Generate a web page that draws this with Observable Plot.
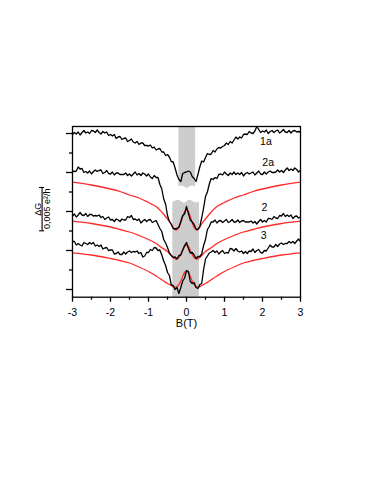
<!DOCTYPE html>
<html><head><meta charset="utf-8">
<script src="https://cdn.jsdelivr.net/npm/d3@7"></script>
<script src="https://cdn.jsdelivr.net/npm/@observablehq/plot@0.6"></script>
<style>html,body{margin:0;padding:0;background:#fff} svg{display:block}</style>
</head><body><div id="chart"></div>
<script>
// magnetic field sweep (T)
const fieldB = [-3,-2.95,-2.9,-2.85,-2.8,-2.75,-2.7,-2.65,-2.6,-2.55,-2.5,-2.45,-2.4,-2.35,-2.3,-2.25,-2.2,-2.15,-2.1,-2.05,-2,-1.95,-1.9,-1.85,-1.8,-1.75,-1.7,-1.65,-1.6,-1.55,-1.5,-1.45,-1.4,-1.35,-1.3,-1.25,-1.2,-1.15,-1.1,-1.05,-1,-0.95,-0.9,-0.85,-0.8,-0.75,-0.7,-0.65,-0.6,-0.55,-0.5,-0.45,-0.4,-0.35,-0.3,-0.25,-0.2,-0.15,-0.1,-0.05,0,0.05,0.1,0.15,0.2,0.25,0.3,0.35,0.4,0.45,0.5,0.55,0.6,0.65,0.7,0.75,0.8,0.85,0.9,0.95,1,1.05,1.1,1.15,1.2,1.25,1.3,1.35,1.4,1.45,1.5,1.55,1.6,1.65,1.7,1.75,1.8,1.85,1.9,1.95,2,2.05,2.1,2.15,2.2,2.25,2.3,2.35,2.4,2.45,2.5,2.55,2.6,2.65,2.7,2.75,2.8,2.85,2.9,2.95,3];

// measured traces (offset conductance, arbitrary units)
const trace1a = [155,157,155.5,157.5,154.5,157,159,156.5,157.5,156,
159,158.5,157,159.5,157,155.5,158,156.5,157.5,154,
155,153.5,155,151,152.5,153,150,151,151.5,148,
149,150.5,147.5,146.5,148,145,146.5,146.5,144,144,
143.5,144.5,141.5,142.5,139.5,140.5,141,137.5,137.5,134,
135,132.5,128,127.5,121.5,114.5,110,108,116,117,
117.5,118.5,117.5,113,111,108,115,122.5,128.5,127.5,
132,136,135,135.5,139,137.5,140.5,142,141.5,143,
144,146.5,145,148,146.5,149.5,152.5,150.5,152.5,151.5,
155,155.5,155,158,156.5,156,158.5,163,160,157,
158.5,157.5,159.5,156,158,159,157,158.5,159.5,156.5,
158,160,157.5,157,159,156.5,158.5,159,157.5,158,157.5];

const trace2a = [118.5,118,118.5,122.5,120.5,121,117,118,116.5,118.5,
115.5,118,119.5,118,119,119.5,116,117,119,116,
115.5,117.5,114.5,116.5,116.5,115,115,115,116.5,114,
115.5,113.5,115.5,117.5,114.5,116,114,116.5,115.5,113.5,
115.5,112.5,111,114,112,112,105,100.5,90.5,85.5,
74,68,65,61,60.5,61,62.5,68,74,75.5,
83,76,69.5,67.5,65,60.5,60,63,71.5,81.5,
93,97.5,105.5,111,110,112,111,115,115.5,114.5,
117.5,115.5,114,116.5,115,117.5,115,116.5,115,117,
113.5,116,117,115.5,116.5,117.5,114.5,116.5,118.5,115.5,
115,117.5,115.5,117.5,118.5,117,117,117.5,119.5,117.5,
119,117,119.5,121.5,119,120.5,119,121.5,120,117.5,119];

const trace2 = [73.5,75.5,72.5,74.5,77,74.5,74,76,73,75,
75,73.5,74,73.5,74.5,72,73,70,71.5,72.5,
69.5,70,68,70.5,69.5,68,70.5,69.5,69.5,73,
72,74,70,70.5,69,70.5,66.5,68.5,70,68,
69.5,70,67,68,69,65,61,58,50,46.5,
42,36.5,34,32,32.5,30.5,34,34.5,39.5,44,
47,41,36.5,37,34.5,31,33,33,35.5,44,
50,60,63,67.5,67.5,69.5,66.5,68.5,69,67,
68.5,70,67,68,70,67.5,67.5,69.5,67,68.5,
69,67.5,67.5,67.5,68.5,66.5,68,65.5,68,70,
67.5,69,67.5,71,71,70,73,71.5,71,74,
73.5,76,73,74.5,73,74.5,71,73,73.5,71.5,72.5];

const trace3 = [48,48,44.5,46,44.5,43.5,47,46,45,47,
45.5,47,43.5,44.5,43,44.5,40.5,41.5,42,39,
39.5,39.5,35.5,36,37.5,35,35,37.5,35.5,37.5,
38.5,37,38,37.5,38.5,36,37,32.5,33.5,37,
37,40,39,42,41.5,39,39.5,34.5,28.5,24,
17,14,4.5,4,0,2,-4,2,8.5,11.5,
19,18,8,6,7,2,1,5,6,20,
30.5,33.5,36.5,37.5,39,37,38.5,35.5,37.5,39,
36,37,36.5,41,40.5,38.5,41,38.5,37.5,38.5,
36,38,36,38.5,38,40.5,37,39,40,37,
36.5,39,38.5,41.5,44.5,42.5,42.5,45,43,45.5,
46.5,45,46,46,48,46.5,48,46,48.5,50.5,48];

// fitted curves (red)
const fitB = [-3,-2.5,-2,-1.75,-1.5,-1.25,-1,-0.8,-0.64,-0.5,-0.4,-0.33,-0.27,-0.2,-0.15,-0.1,-0.05,0,0.05,0.1,0.15,0.2,0.27,0.33,0.4,0.5,0.64,0.8,1,1.25,1.5,1.75,2,2.5,3];
const fit2a = [107.3,104.5,100.5,98,94.5,91.5,87,83,77,70.5,65.5,61,59.5,62,67,73,78,80,78,73,67,62,59.5,61,65.5,70.5,77,83,87,91.5,94.5,98,100.5,104.5,107.3];
const fit2 = [68.3,66,62.5,60,57.5,54,50,46,41.5,38,34,31.5,30.5,32,35,39,43,44.5,43,39,35,32,30.5,31.5,34,38,41.5,46,50,54,57.5,60,62.5,66,68.3];
const fit3 = [36.7,34.5,31,29,26.5,22.5,18,13.5,9.5,6,4,2.5,2.5,5,8.5,13,17,18.5,17,13,8.5,5,2.5,2.5,4,6,9.5,13.5,18,22.5,26.5,29,31,34.5,36.7];

// shaded field ranges
const band1B = [-0.2,-0.1,-0.02,0.02,0.06,0.14,0.24];
const band1Low = [103,103.5,102,100.5,102,103.5,103];
const band2B = [-0.36,-0.28,-0.2,-0.12,-0.05,0.02,0.09,0.17,0.25,0.34];
const band2High = [87,88.5,89.5,87.5,86,88,89.5,88,86.5,87.5];

// axes
const xTicks = [-3,-2,-1,0,1,2,3];
const xMinor = [-2.5,-1.5,-0.5,0.5,1.5,2.5];
const yTicks = [0,39,78,117,156];
const yMinor = [19.5,58.5,97.5,136.5];

// curve labels
const labelText = ["1a","2a","2","3"];
const labelB = [2.09,2.15,2.05,2.03];
const labelG = [148,127,82,54];

const yDomain = [-7.7, 163];

const traces = [
  ["1a", trace1a], ["2a", trace2a], ["2", trace2], ["3", trace3]
].flatMap(([k, arr]) => arr.map((g, i) => ({k, B: fieldB[i], G: g})));
const fits = [
  ["2a", fit2a], ["2", fit2], ["3", fit3]
].flatMap(([k, arr]) => arr.map((g, i) => ({k, B: fitB[i], G: g})));
const band1 = band1B.map((b, i) => ({B: b, lo: band1Low[i]}));
const band2 = band2B.map((b, i) => ({B: b, hi: band2High[i]}));
const labels = labelText.map((t, i) => ({t, B: labelB[i], G: labelG[i]}));

const font = "'Liberation Sans', Arial, Helvetica, sans-serif";

const chart = Plot.plot({
  width: 382,
  height: 494,
  marginLeft: 72,
  marginRight: 82,
  marginTop: 126,
  marginBottom: 197.3,
  style: {fontFamily: font, fontSize: "10px", color: "black", background: "white"},
  x: {domain: [-3, 3], axis: null},
  y: {domain: yDomain, axis: null},
  marks: [
    Plot.areaY(band1, {x: "B", y1: "lo", y2: yDomain[1], fill: "#cdcdcd"}),
    Plot.areaY(band2, {x: "B", y1: yDomain[0], y2: "hi", fill: "#cdcdcd"}),
    Plot.line(fits, {x: "B", y: "G", z: "k", stroke: "#ff2a2a", strokeWidth: 1.3, curve: "catmull-rom"}),
    Plot.line(traces, {x: "B", y: "G", z: "k", stroke: "black", strokeWidth: 1.3}),
    Plot.frame({stroke: "black", strokeWidth: 1.3}),
    Plot.axisX({ticks: xTicks, tickSize: 5, tickPadding: 6.5, tickFormat: d => String(d), fontSize: 10.5, label: null, strokeWidth: 1.3}),
    Plot.axisX({ticks: xMinor, tickSize: 3, tickFormat: () => "", label: null, strokeWidth: 1.3}),
    Plot.axisY({ticks: yTicks, tickSize: 6, tickFormat: () => "", label: null, strokeWidth: 1.3}),
    Plot.axisY({ticks: yMinor, tickSize: 3, tickFormat: () => "", label: null, strokeWidth: 1.3}),
    Plot.text(["B(T)"], {frameAnchor: "bottom", dy: 30, fontSize: 11}),
    Plot.text(labels, {x: "B", y: "G", text: "t", fontSize: 10.5}),
    // scale bar
    Plot.ruleX([-3.8], {x: d => d, y1: 58.7, y2: 102, stroke: "black", strokeWidth: 1.1}),
    Plot.ruleY([58.7, 102], {y: d => d, x1: -3.866, x2: -3.734, stroke: "black", strokeWidth: 1.1}),
    Plot.text(["ΔG"], {x: -3.9, y: 80.3, rotate: -90, fontSize: 9}),
    Plot.text(["0,005 e²/h"], {x: -3.66, y: 80.7, rotate: -90, fontSize: 9})
  ]
});
document.getElementById("chart").appendChild(chart);
</script>
</body></html>
